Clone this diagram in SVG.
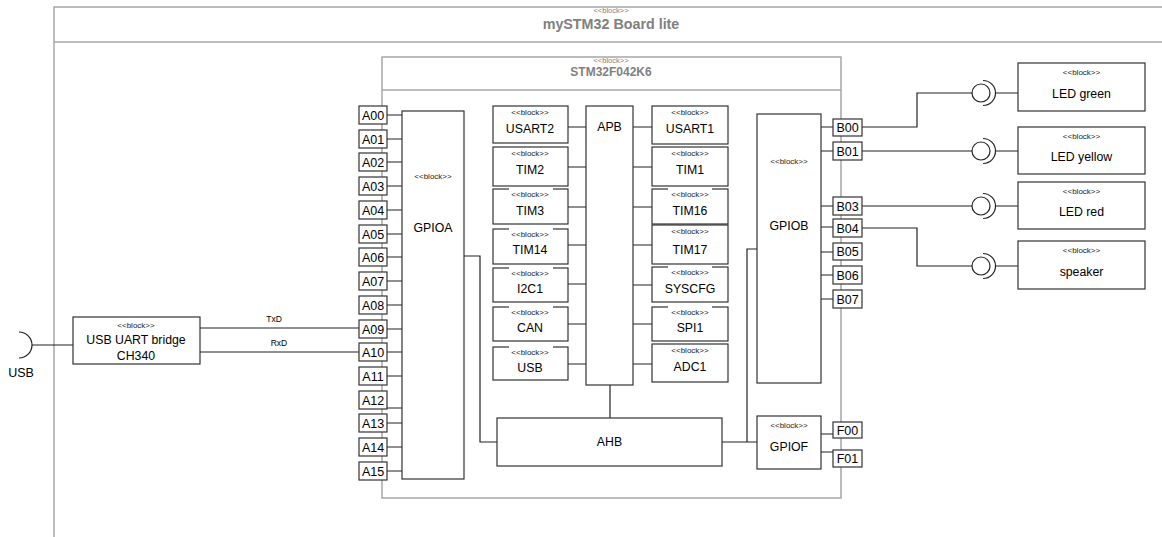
<svg xmlns="http://www.w3.org/2000/svg" width="1162" height="537" viewBox="0 0 1162 537">
<style>
text{font-family:"Liberation Sans",Arial,sans-serif;fill:#000;text-anchor:middle}
.frame{fill:none;stroke:#a6a6a6;stroke-width:1.5}
.ftitle{font-weight:bold;fill:#808080}
.fst{font-size:7.5px;fill:#808080}
.box{fill:#fff;stroke:#333;stroke-width:1.2}
.st{font-size:8px;fill:#222}
.nm{font-size:12.3px}
.pin{font-size:12.5px}
.c{fill:none;stroke:#222;stroke-width:1.2}
.lbl{font-size:8.5px}
</style>
<g id="board">
<rect class="frame" x="54" y="7" width="1200" height="600"/>
<line class="frame" x1="54" y1="42" x2="1162" y2="42"/>
<text class="fst" x="611" y="12.5">&lt;&lt;block&gt;&gt;</text>
<text class="ftitle" x="611" y="28.5" font-size="14.3">mySTM32 Board lite</text>
</g>
<g id="stm32">
<rect class="frame" x="382" y="57" width="459" height="441"/>
<line class="frame" x1="382" y1="90" x2="841" y2="90"/>
<text class="fst" x="611" y="63">&lt;&lt;block&gt;&gt;</text>
<text class="ftitle" x="611" y="75.5" font-size="12">STM32F042K6</text>
</g>
<g id="connectors">
<path class="c" d="M32,345 H73"/>
<path class="c" d="M200,328 H359"/>
<path class="c" d="M200,352 H359"/>
<path class="c" d="M387,115 H402 M387,139 H402 M387,162 H402 M387,186 H402 M387,210 H402 M387,234 H402 M387,257 H402 M387,281 H402 M387,305 H402 M387,329 H402 M387,352 H402 M387,376 H402 M387,408 H402 M387,423 H402 M387,447 H402 M387,471 H402"/>
<path class="c" d="M464,256 H480 V442 H497"/>
<path class="c" d="M568,127 H586 M568,167 H586 M568,207 H586 M568,245 H586 M568,284 H586 M568,324 H586 M568,364 H586"/>
<path class="c" d="M633,127 H652 M633,167 H652 M633,207 H652 M633,245 H652 M633,285 H652 M633,324 H652 M633,364 H652"/>
<path class="c" d="M610,385 V418"/>
<path class="c" d="M722,442 H757 M747,442 V249 H757"/>
<path class="c" d="M821,127 H833 M821,151 H833 M821,206 H833 M821,227 H833 M821,252 H833 M821,275 H833 M821,299 H833"/>
<path class="c" d="M821,434 H833 M821,452 H833"/>
<path class="c" d="M862,127 H917 V93 H972 M995,93 H1018"/>
<path class="c" d="M862,151 H972 M995,151 H1018"/>
<path class="c" d="M862,206 H972 M995,206 H1018"/>
<path class="c" d="M862,228 H917 V266 H972 M995,266 H1018"/>
</g>
<g id="usb-port">
<path class="c" d="M19,332 A13,13 0 0 1 19,358"/>
<text x="21" y="377" font-size="12.5">USB</text>
</g>
<g id="bridge">
<rect class="box" x="73" y="317" width="127" height="47"/>
<text class="st" x="136" y="328">&lt;&lt;block&gt;&gt;</text>
<text class="nm" x="136" y="344">USB UART bridge</text>
<text class="nm" x="136" y="360">CH340</text>
<text class="lbl" x="274" y="322">TxD</text>
<text class="lbl" x="279" y="346">RxD</text>
</g>
<g id="gpioa">
<rect class="box" x="402" y="111" width="62" height="368"/>
<text class="st" x="433" y="179">&lt;&lt;block&gt;&gt;</text>
<text class="nm" x="433" y="232">GPIOA</text>
</g>
<g id="pinsA">
<rect class="box" x="359" y="106" width="28" height="18"/><text class="pin" x="373" y="120">A00</text>
<rect class="box" x="359" y="130" width="28" height="18"/><text class="pin" x="373" y="144">A01</text>
<rect class="box" x="359" y="153" width="28" height="18"/><text class="pin" x="373" y="167">A02</text>
<rect class="box" x="359" y="177" width="28" height="18"/><text class="pin" x="373" y="191">A03</text>
<rect class="box" x="359" y="201" width="28" height="18"/><text class="pin" x="373" y="215">A04</text>
<rect class="box" x="359" y="225" width="28" height="18"/><text class="pin" x="373" y="239">A05</text>
<rect class="box" x="359" y="248" width="28" height="18"/><text class="pin" x="373" y="262">A06</text>
<rect class="box" x="359" y="272" width="28" height="18"/><text class="pin" x="373" y="286">A07</text>
<rect class="box" x="359" y="296" width="28" height="18"/><text class="pin" x="373" y="310">A08</text>
<rect class="box" x="359" y="320" width="28" height="18"/><text class="pin" x="373" y="334">A09</text>
<rect class="box" x="359" y="343" width="28" height="18"/><text class="pin" x="373" y="357">A10</text>
<rect class="box" x="359" y="367" width="28" height="18"/><text class="pin" x="373" y="381">A11</text>
<rect class="box" x="359" y="391" width="28" height="18"/><text class="pin" x="373" y="405">A12</text>
<rect class="box" x="359" y="414" width="28" height="18"/><text class="pin" x="373" y="428">A13</text>
<rect class="box" x="359" y="438" width="28" height="18"/><text class="pin" x="373" y="452">A14</text>
<rect class="box" x="359" y="462" width="28" height="18"/><text class="pin" x="373" y="476">A15</text>
</g>
<g id="usart2"><rect class="box" x="493" y="106" width="75" height="37"/><text class="st" x="530" y="115">&lt;&lt;block&gt;&gt;</text><text class="nm" x="530" y="133">USART2</text></g>
<g id="tim2"><rect class="box" x="493" y="147" width="75" height="39"/><text class="st" x="530" y="156">&lt;&lt;block&gt;&gt;</text><text class="nm" x="530" y="174">TIM2</text></g>
<g id="tim3"><rect class="box" x="493" y="189" width="75" height="35"/><rect x="509" y="187" width="44" height="5" fill="#fff"/><text class="st" x="530" y="197">&lt;&lt;block&gt;&gt;</text><text class="nm" x="530" y="215">TIM3</text></g>
<g id="tim14"><rect class="box" x="493" y="229" width="75" height="35"/><rect x="509" y="227" width="44" height="5" fill="#fff"/><text class="st" x="530" y="237">&lt;&lt;block&gt;&gt;</text><text class="nm" x="530" y="254">TIM14</text></g>
<g id="i2c1"><rect class="box" x="493" y="268" width="75" height="34"/><rect x="509" y="266" width="44" height="5" fill="#fff"/><text class="st" x="530" y="276">&lt;&lt;block&gt;&gt;</text><text class="nm" x="530" y="293">I2C1</text></g>
<g id="can"><rect class="box" x="493" y="307" width="75" height="34"/><rect x="509" y="305" width="44" height="5" fill="#fff"/><text class="st" x="530" y="315">&lt;&lt;block&gt;&gt;</text><text class="nm" x="530" y="332">CAN</text></g>
<g id="usb"><rect class="box" x="493" y="347" width="75" height="33"/><rect x="509" y="345" width="44" height="5" fill="#fff"/><text class="st" x="530" y="355">&lt;&lt;block&gt;&gt;</text><text class="nm" x="530" y="372">USB</text></g>
<g id="apb"><rect class="box" x="586" y="106" width="47" height="279"/><text class="nm" x="609.5" y="131">APB</text></g>
<g id="usart1"><rect class="box" x="652" y="106" width="76" height="38"/><text class="st" x="690" y="115">&lt;&lt;block&gt;&gt;</text><text class="nm" x="690" y="133">USART1</text></g>
<g id="tim1"><rect class="box" x="652" y="147" width="76" height="39"/><text class="st" x="690" y="156">&lt;&lt;block&gt;&gt;</text><text class="nm" x="690" y="174">TIM1</text></g>
<g id="tim16"><rect class="box" x="652" y="189" width="76" height="35"/><rect x="668" y="187" width="44" height="5" fill="#fff"/><text class="st" x="690" y="197">&lt;&lt;block&gt;&gt;</text><text class="nm" x="690" y="215">TIM16</text></g>
<g id="tim17"><rect class="box" x="652" y="225" width="76" height="39"/><text class="st" x="690" y="234">&lt;&lt;block&gt;&gt;</text><text class="nm" x="690" y="254">TIM17</text></g>
<g id="syscfg"><rect class="box" x="652" y="267" width="76" height="35"/><rect x="668" y="265" width="44" height="5" fill="#fff"/><text class="st" x="690" y="275">&lt;&lt;block&gt;&gt;</text><text class="nm" x="690" y="293">SYSCFG</text></g>
<g id="spi1"><rect class="box" x="652" y="307" width="76" height="34"/><rect x="668" y="305" width="44" height="5" fill="#fff"/><text class="st" x="690" y="315">&lt;&lt;block&gt;&gt;</text><text class="nm" x="690" y="332">SPI1</text></g>
<g id="adc1"><rect class="box" x="652" y="344" width="76" height="38"/><text class="st" x="690" y="353">&lt;&lt;block&gt;&gt;</text><text class="nm" x="690" y="371">ADC1</text></g>
<g id="ahb"><rect class="box" x="497" y="418" width="225" height="48"/><text class="nm" x="609.5" y="446">AHB</text></g>
<g id="gpiob"><rect class="box" x="757" y="114" width="64" height="269"/><text class="st" x="789" y="164">&lt;&lt;block&gt;&gt;</text><text class="nm" x="789" y="230">GPIOB</text></g>
<g id="gpiof"><rect class="box" x="757" y="416" width="64" height="53"/><text class="st" x="789" y="428">&lt;&lt;block&gt;&gt;</text><text class="nm" x="789" y="451">GPIOF</text></g>
<g id="pinsB">
<rect class="box" x="833" y="119" width="29" height="17"/><text class="pin" x="847.5" y="132">B00</text>
<rect class="box" x="833" y="142" width="29" height="18"/><text class="pin" x="847.5" y="156">B01</text>
<rect class="box" x="833" y="197" width="29" height="18"/><text class="pin" x="847.5" y="211">B03</text>
<rect class="box" x="833" y="219" width="29" height="18"/><text class="pin" x="847.5" y="233">B04</text>
<rect class="box" x="833" y="243" width="29" height="17"/><text class="pin" x="847.5" y="256">B05</text>
<rect class="box" x="833" y="266" width="29" height="18"/><text class="pin" x="847.5" y="280">B06</text>
<rect class="box" x="833" y="290" width="29" height="18"/><text class="pin" x="847.5" y="304">B07</text>
</g>
<g id="pinsF">
<rect class="box" x="833" y="422" width="29" height="16"/><text class="pin" x="847.5" y="435">F00</text>
<rect class="box" x="833" y="450" width="29" height="17"/><text class="pin" x="847.5" y="463">F01</text>
</g>
<g id="ports">
<circle class="c" cx="981" cy="93" r="9"/><path class="c" d="M983,80.5 A12.5,12.5 0 0 1 983,105.5"/>
<circle class="c" cx="981" cy="151" r="9"/><path class="c" d="M983,138.5 A12.5,12.5 0 0 1 983,163.5"/>
<circle class="c" cx="981" cy="206" r="9"/><path class="c" d="M983,193.5 A12.5,12.5 0 0 1 983,218.5"/>
<circle class="c" cx="981" cy="266" r="9"/><path class="c" d="M983,253.5 A12.5,12.5 0 0 1 983,278.5"/>
</g>
<g id="led-green"><rect class="box" x="1018" y="63" width="127" height="48"/><text class="st" x="1081.5" y="75">&lt;&lt;block&gt;&gt;</text><text class="nm" x="1081.5" y="98" font-size="12.5">LED green</text></g>
<g id="led-yellow"><rect class="box" x="1018" y="127" width="127" height="47"/><text class="st" x="1081.5" y="139">&lt;&lt;block&gt;&gt;</text><text class="nm" x="1081.5" y="161" font-size="12.5">LED yellow</text></g>
<g id="led-red"><rect class="box" x="1018" y="182" width="127" height="47"/><text class="st" x="1081.5" y="194">&lt;&lt;block&gt;&gt;</text><text class="nm" x="1081.5" y="216" font-size="12.5">LED red</text></g>
<g id="speaker"><rect class="box" x="1018" y="241" width="127" height="48"/><text class="st" x="1081.5" y="253">&lt;&lt;block&gt;&gt;</text><text class="nm" x="1081.5" y="276" font-size="12.5">speaker</text></g>
</svg>
